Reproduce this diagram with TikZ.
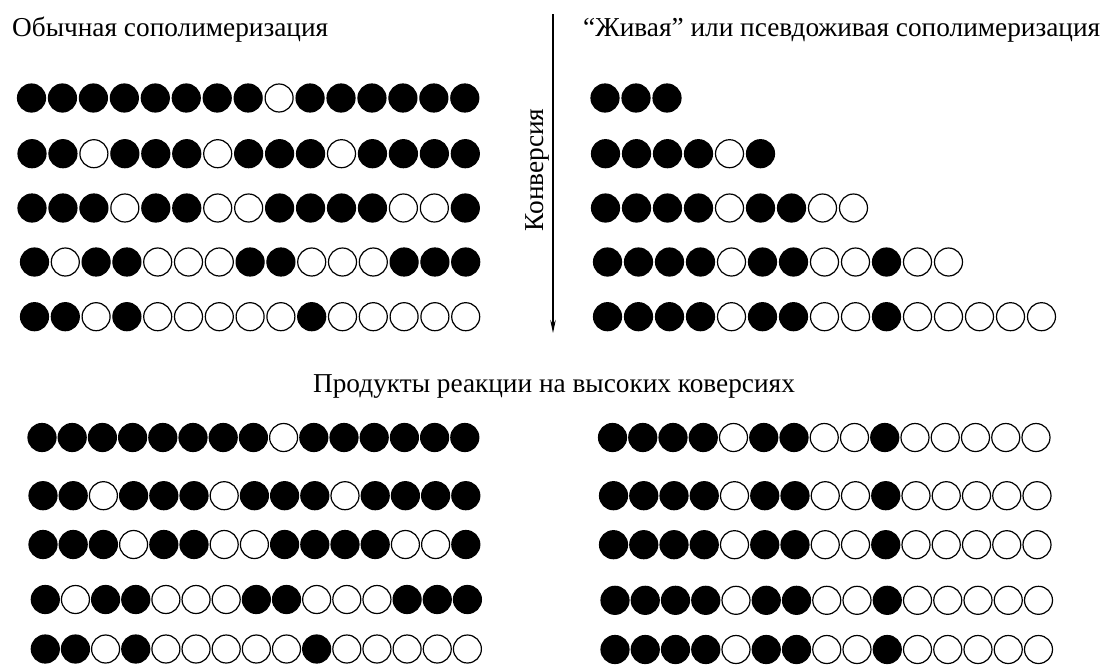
\documentclass[tikz,border=0pt]{standalone}
\usepackage{fontspec}
\setmainfont{Liberation Serif}
\usetikzlibrary{arrows.meta}
\tikzset{
  bead/.style={circle, draw=black, line width=1.2pt, minimum size=28pt, inner sep=0pt, outer sep=0pt},
  title/.style={font=\fontsize{27.3}{32}\selectfont, inner sep=0pt},
  convarrow/.style={line width=1.1pt, -{Stealth[length=13pt,width=5.5pt]}},
}
\newcommand\beadrow[5]{%
  \foreach \c [count=\k] in {#5} {%
    \ifnum\c=1 \def\fc{black}\else\def\fc{white}\fi
    \node[bead, fill=\fc] (#1-\k) at ({#2+(\k-1)*#4},#3) {};
  }}
\begin{document}
\begin{tikzpicture}[x=1pt,y=-1pt]
\useasboundingbox (0,0) rectangle (1107,664);
% titles
\node[title, anchor=base west] (lefttitle) at (12,36) {Обычная сополимеризация};
\node[title, anchor=base west] (righttitle) at (583,36) {“Живая” или псевдоживая сополимеризация};
\node[title, anchor=base] (midtitle) at (554,392) {Продукты реакции на высоких коверсиях};
% conversion arrow
\coordinate (atop) at (553,14);
\coordinate (abot) at (553,333);
\draw[convarrow] (atop) -- (abot);
\node[title, rotate=90, anchor=base] (conv) at (543,170) {Конверсия};
% top left: ordinary copolymerization
\beadrow{tlA}{31.5}{98}{30.95}{1,1,1,1,1,1,1,1,0,1,1,1,1,1,1}
\beadrow{tlB}{32}{153.7}{30.95}{1,1,0,1,1,1,0,1,1,1,0,1,1,1,1}
\beadrow{tlC}{32}{208}{30.95}{1,1,1,0,1,1,0,0,1,1,1,1,0,0,1}
\beadrow{tlD}{34.5}{262}{30.8}{1,0,1,1,0,0,0,1,1,0,0,0,1,1,1}
\beadrow{tlE}{34.5}{316.7}{30.8}{1,1,0,1,0,0,0,0,0,1,0,0,0,0,0}
% top right: living copolymerization
\beadrow{trA}{605}{98}{31}{1,1,1}
\beadrow{trB}{605.5}{153.7}{31}{1,1,1,1,0,1}
\beadrow{trC}{605.5}{208}{31}{1,1,1,1,0,1,1,0,0}
\beadrow{trD}{607.5}{262}{31}{1,1,1,1,0,1,1,0,0,1,0,0}
\beadrow{trE}{607.5}{316.7}{31}{1,1,1,1,0,1,1,0,0,1,0,0,0,0,0}
% bottom left
\beadrow{blA}{42}{437.5}{30.2}{1,1,1,1,1,1,1,1,0,1,1,1,1,1,1}
\beadrow{blB}{43}{495.7}{30.2}{1,1,0,1,1,1,0,1,1,1,0,1,1,1,1}
\beadrow{blC}{43}{544.5}{30.2}{1,1,1,0,1,1,0,0,1,1,1,1,0,0,1}
\beadrow{blD}{45.3}{599.5}{30.15}{1,0,1,1,0,0,0,1,1,0,0,0,1,1,1}
\beadrow{blE}{45.3}{649}{30.15}{1,1,0,1,0,0,0,0,0,1,0,0,0,0,0}
% bottom right
\beadrow{brA}{612.5}{437.5}{30.25}{1,1,1,1,0,1,1,0,0,1,0,0,0,0,0}
\beadrow{brB}{613.5}{495.7}{30.25}{1,1,1,1,0,1,1,0,0,1,0,0,0,0,0}
\beadrow{brC}{613.5}{544.7}{30.25}{1,1,1,1,0,1,1,0,0,1,0,0,0,0,0}
\beadrow{brD}{615}{600.3}{30.25}{1,1,1,1,0,1,1,0,0,1,0,0,0,0,0}
\beadrow{brE}{615}{649.5}{30.25}{1,1,1,1,0,1,1,0,0,1,0,0,0,0,0}
\end{tikzpicture}
\end{document}
